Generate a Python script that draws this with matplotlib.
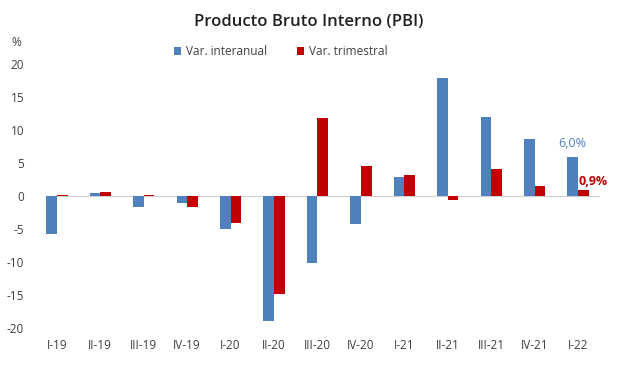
import matplotlib
matplotlib.use("Agg")
import matplotlib.pyplot as plt
import numpy as np

categories = ["I-19", "II-19", "III-19", "IV-19", "I-20", "II-20", "III-20",
              "IV-20", "I-21", "II-21", "III-21", "IV-21", "I-22"]
interanual = [-5.8, 0.5, -1.7, -1.1, -5.0, -19.0, -10.1, -4.2, 2.9, 17.9, 12.0, 8.6, 6.0]
trimestral = [0.2, 0.7, 0.2, -1.6, -4.0, -14.8, 11.9, 4.5, 3.2, -0.6, 4.1, 1.6, 0.9]
yticks = [-20, -15, -10, -5, 0, 5, 10, 15, 20]

blue = "#4F81BD"
red = "#C00000"
plt.rcParams['font.family'] = ['Open Sans', 'DejaVu Sans']

fig = plt.figure(figsize=(6.17, 3.69), dpi=100)
ax = fig.add_axes([0.057, 0.093, 0.915, 0.751])
x = np.arange(len(categories))
w = 0.245
ax.bar(x - w/2, interanual, w, color=blue, label="Var. interanual")
ax.bar(x + w/2, trimestral, w, color=red, label="Var. trimestral")
ax.axhline(0, xmin=0.018, color="#d0d0d0", lw=0.8, zorder=0)
ax.set_xlim(-0.5, 12.5)
ax.set_ylim(-21, 21)
ax.set_yticks(yticks)
ax.set_yticklabels([str(v) for v in yticks], fontsize=8.5, color="#404040")
ax.set_xticks(x)
ax.set_xticklabels(categories, fontsize=8.5, color="#404040")
ax.tick_params(axis='y', length=0, pad=8)
ax.tick_params(axis='x', length=0, pad=3)
for s in ax.spines.values():
    s.set_visible(False)

ax.annotate("6,0%", (x[-1] - w/2, interanual[-1]), xytext=(0, 5), textcoords="offset points",
            ha="center", va="bottom", color=blue, fontsize=9)
ax.annotate("0,9%", (x[-1], trimestral[-1]), xytext=(0, 1.5), textcoords="offset points",
            ha="left", va="bottom", color=red, fontsize=9, fontweight="bold")

fig.text(0.5, 0.94, "Producto Bruto Interno (PBI)", ha="center", va="center",
         fontsize=12, fontweight="semibold", color="#202020")
fig.text(0.027, 0.885, "%", ha="center", va="center", fontsize=8.5, color="#404040")
leg = ax.legend(loc="center", bbox_to_anchor=(0.455, 0.86), bbox_transform=fig.transFigure,
                ncol=2, frameon=False, fontsize=8.5, handlelength=0.6, handleheight=0.6,
                columnspacing=2.6, handletextpad=0.4)
for t in leg.get_texts():
    t.set_color("#404040")
fig.savefig("out.png", dpi=100, facecolor="white")
